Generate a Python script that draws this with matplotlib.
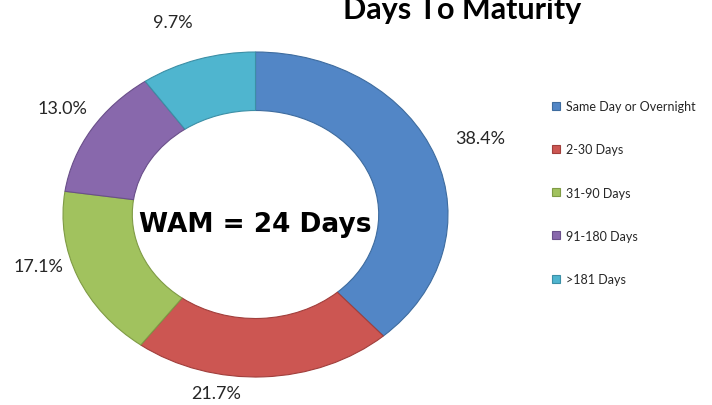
import numpy as np
import matplotlib
matplotlib.use("Agg")
import matplotlib.pyplot as plt

# data
categories = ["Same Day or Overnight", "2-30 Days", "31-90 Days", "91-180 Days", ">181 Days"]
shares = [38.4, 21.7, 17.1, 13.0, 9.7]
colors = ["#5286C6", "#CC5652", "#A1C25E", "#8868AC", "#4FB5CF"]
edges = ["#3E6C9F", "#A13F3C", "#7F9B45", "#6A4F8A", "#3C8FA6"]
title = "Days To Maturity"
center_text = "WAM = 24 Days"

# label placement tweaks (radius, angle shift in deg)
label_r = [1.26, 1.12, 1.17, 1.20, 1.26]
label_shift = [1.0, -13.0, -7.0, -1.5, 2.5]

fig = plt.figure(figsize=(7.12, 4.06), dpi=100)
ax = fig.add_axes([63 / 712, 28 / 406, 385 / 712, 325 / 406])

wedges, _ = ax.pie(shares, colors=colors, startangle=90, counterclock=False,
                   radius=1.0, wedgeprops=dict(width=0.36, linewidth=0.8))
for w, ec in zip(wedges, edges):
    w.set_edgecolor(ec)

ax.set_aspect("auto")
ax.set_xlim(-1, 1)
ax.set_ylim(-1, 1)
ax.axis("off")

for w, v, r, sh in zip(wedges, shares, label_r, label_shift):
    ang = np.deg2rad((w.theta1 + w.theta2) / 2 + sh)
    ax.text(r * np.cos(ang), r * np.sin(ang), f"{v:.1f}%", ha="center", va="center",
            fontsize=13, family="Lato", color="#262626", clip_on=False)

ax.text(0, -0.06, center_text, ha="center", va="center", fontsize=19,
        fontweight="bold", family="DejaVu Sans", color="black")

fig.text(462 / 712, 1 - 19 / 406, title, ha="center", va="baseline",
         fontsize=22, fontweight="bold", family="Lato", color="black")

leg = fig.legend(wedges, categories, loc="upper left",
                 bbox_to_anchor=(552 / 712, 1 - 101 / 406), frameon=False,
                 prop=dict(family="Lato", size=9), labelspacing=2.5,
                 handlelength=0.6, handleheight=0.6, handletextpad=0.5,
                 borderaxespad=0, borderpad=0)
for t in leg.get_texts():
    t.set_color("#262626")

fig.savefig("out.png", dpi=100)
